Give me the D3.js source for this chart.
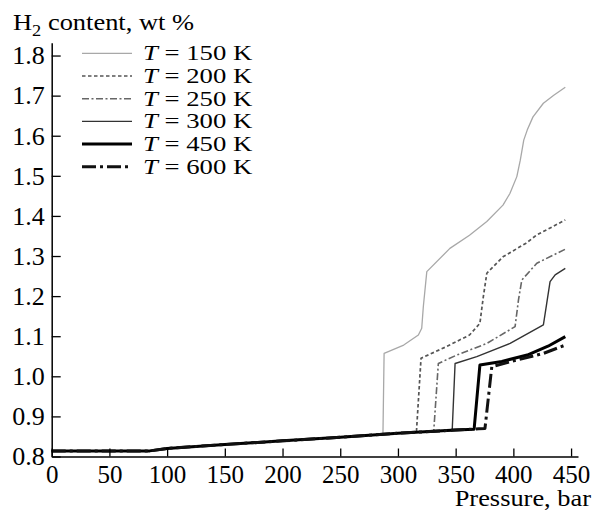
<!DOCTYPE html>
<html>
<head>
<meta charset="utf-8">
<script src="https://cdn.jsdelivr.net/npm/d3@7"></script>
<style>
  body { margin: 0; background: #fff; }
  text { font-family: "Liberation Serif", "Times New Roman", serif; fill: #000; }
</style>
</head>
<body>
<svg id="chart" width="598" height="516"></svg>
<script>
// Tick values and legend labels
const xTicks = [0, 50, 100, 150, 200, 250, 300, 350, 400, 450];
const yTicks = [0.8, 0.9, 1.0, 1.1, 1.2, 1.3, 1.4, 1.5, 1.6, 1.7, 1.8];
const temps = [150, 200, 250, 300, 450, 600];

// Shared low-pressure part of all isotherms (pressure, wt %)
const baseP = [0, 85, 100, 150, 200, 250, 300, 350, 370];
const baseH = [0.814, 0.814, 0.820, 0.830, 0.839, 0.848, 0.858, 0.866, 0.869];

// Upper branches
const t150P = [287, 288, 305, 317.7, 320.6, 322, 325, 345, 362, 377, 391, 397, 403, 406, 409, 412, 417, 426, 435, 445];
const t150H = [0.856, 1.057, 1.078, 1.103, 1.12, 1.174, 1.261, 1.319, 1.352, 1.386, 1.427, 1.456, 1.498, 1.539, 1.589, 1.614, 1.647, 1.681, 1.701, 1.721];
const t200P = [316, 320, 342, 362, 371, 374, 377, 391, 411, 420, 445];
const t200H = [0.861, 1.045, 1.074, 1.103, 1.132, 1.199, 1.257, 1.298, 1.332, 1.352, 1.390];
const t250P = [331, 335, 351, 377, 401.5, 404.4, 407.3, 420.3, 445];
const t250H = [0.863, 1.032, 1.053, 1.082, 1.124, 1.19, 1.24, 1.282, 1.317];
const t300P = [347, 349.5, 368.3, 397.2, 426, 428.9, 431.8, 436.2, 445];
const t300H = [0.865, 1.032, 1.049, 1.082, 1.128, 1.182, 1.236, 1.253, 1.269];
const t450P = [366, 371, 390, 412, 430, 445];
const t450H = [0.868, 1.028, 1.037, 1.053, 1.075, 1.099];
const t600P = [375.4, 381.3, 397, 426, 445];
const t600H = [0.870, 1.024, 1.036, 1.057, 1.078];

const branchP = [t150P, t200P, t250P, t300P, t450P, t600P];
const branchH = [t150H, t200H, t250H, t300H, t450H, t600H];

// Line styles per isotherm
const styles = [
  { color: "#a8a8a8", width: 1.3, dash: null },
  { color: "#555", width: 1.7, dash: "3.5,2.5" },
  { color: "#666", width: 1.6, dash: "7,2.5,2,2.5" },
  { color: "#333", width: 1.4, dash: null },
  { color: "#000", width: 3, dash: null },
  { color: "#111", width: 3, dash: "14,4,3,4" }
];

const svg = d3.select("#chart");

const x = d3.scaleLinear().domain([0, 456]).range([51.7, 578]);
const y = d3.scaleLinear().domain([0.8, 1.832]).range([456.5, 42.7]);

// Build each series: base part up to the jump, then its own branch
const series = temps.map((t, i) => {
  const start = branchP[i][0];
  const pts = [];
  baseP.forEach((p, j) => { if (p < start) pts.push([p, baseH[j]]); });
  branchP[i].forEach((p, j) => pts.push([p, branchH[i][j]]));
  return { t: t, pts: pts, style: styles[i] };
});

const line = d3.line().x(d => x(d[0])).y(d => y(d[1]));

svg.append("g")
  .selectAll("path")
  .data(series)
  .join("path")
  .attr("d", d => line(d.pts))
  .attr("fill", "none")
  .attr("stroke", d => d.style.color)
  .attr("stroke-width", d => d.style.width)
  .attr("stroke-dasharray", d => d.style.dash)
  .attr("stroke-linejoin", "round");

// Axes with inward ticks
const xAxis = d3.axisBottom(x)
  .tickValues(xTicks)
  .tickSizeInner(-8)
  .tickSizeOuter(0)
  .tickPadding(9);

const yAxis = d3.axisLeft(y)
  .tickValues(yTicks)
  .tickFormat(d3.format(".1f"))
  .tickSizeInner(-9)
  .tickSizeOuter(0)
  .tickPadding(7);

const gx = svg.append("g").attr("transform", `translate(0,${y(0.8)})`).call(xAxis);
const gy = svg.append("g").attr("transform", `translate(${x(0)},0)`).call(yAxis);

[gx, gy].forEach(g => {
  g.selectAll("path.domain").attr("stroke", "#000").attr("stroke-width", 1.5);
  g.selectAll(".tick line").attr("stroke", "#000").attr("stroke-width", 1.3);
  g.selectAll(".tick text").attr("fill", "#000");
});
gx.selectAll(".tick text").style("font-size", "25px");
gy.selectAll(".tick text").style("font-size", "26px");

// Axis titles (the original lettering is a bit wider than Times, so stretch horizontally)
const yTitle = svg.append("text")
  .attr("transform", "translate(13,30) scale(1.15,1)")
  .style("font-size", "23px");
yTitle.append("tspan").text("H");
yTitle.append("tspan").attr("dy", 6).style("font-size", "16px").text("2");
yTitle.append("tspan").attr("dy", -6).text(" content, wt %");

svg.append("text")
  .attr("transform", "translate(591,506) scale(1.1,1)")
  .attr("text-anchor", "end")
  .style("font-size", "24px")
  .text("Pressure, bar");

// Legend
const legend = svg.append("g")
  .selectAll("g")
  .data(series)
  .join("g")
  .attr("transform", (d, i) => `translate(0,${53.3 + i * 22.7})`);

legend.append("line")
  .attr("x1", 82).attr("x2", 132)
  .attr("stroke", d => d.style.color)
  .attr("stroke-width", d => d.style.width)
  .attr("stroke-dasharray", d => d.style.dash);

const lt = legend.append("text")
  .attr("transform", "translate(143,7) scale(1.27,1)")
  .style("font-size", "21px");
lt.append("tspan").style("font-style", "italic").text("T");
lt.append("tspan").text(d => ` = ${d.t} K`);
</script>
</body>
</html>
